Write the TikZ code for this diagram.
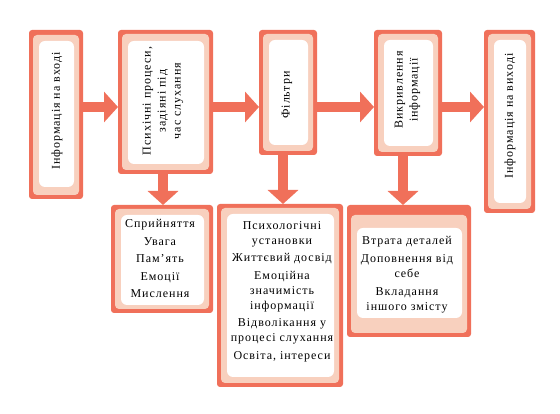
\documentclass[tikz,border=0pt]{standalone}
\usepackage{fontspec}
\setmainfont{Liberation Serif}[LetterSpace=8]
\usetikzlibrary{arrows.meta}
\definecolor{boxred}{RGB}{240,112,90}
\definecolor{peach}{RGB}{248,208,190}
\tikzset{
  outerbox/.style={fill=boxred, rounded corners=3pt, inner sep=0pt, outer sep=0pt},
  label/.style={font=\fontsize{12}{15}\selectfont, align=center, inner sep=0pt, text=black},
  conn/.style={draw=boxred, line width=9.5pt, -{Triangle[length=14pt,width=30pt]}},
}
\newcommand\panel[8]{%
  \node[outerbox, minimum width=#4pt, minimum height=#5pt] (#1) at (#2,#3) {};
  \fill[peach, rounded corners=4pt] ([shift={(4pt,-#6pt)}]#1.north west) rectangle ([shift={(-4pt,4pt)}]#1.south east);
  \fill[white, rounded corners=6pt] ([shift={(10pt,-#7pt)}]#1.north west) rectangle ([shift={(-9pt,#8pt)}]#1.south east);
}
\begin{document}
\begin{tikzpicture}[x=1pt,y=1pt]
\useasboundingbox (0,0) rectangle (560,414);
% top row
\panel{A1}{56}{299.5}{54}{169}{5}{11}{12}
\panel{A2}{165.5}{312}{95}{144}{4}{11}{10}
\panel{A3}{288}{321.5}{58}{125}{4}{10}{10}
\panel{A4}{408}{321}{68}{126}{4}{10}{10}
\panel{A5}{509.5}{292.5}{51}{183}{4}{10}{10}
% bottom row
\panel{B1}{162}{155}{102}{108}{4}{10}{8}
\panel{B2}{280}{118.5}{126}{183}{4}{10}{10}
\panel{B3}{409}{143}{124}{132}{10}{23}{19}
% texts
\node[label, rotate=90] (t1) at (57,303) {Інформація на вході};
\node[label, rotate=90] (t2) at (163,313) {Психічні процеси,\\ задіяні під\\ час слухання};
\node[label, rotate=90] (t3) at (287,319) {Фільтри};
\node[label, rotate=90] (t4) at (407.5,324) {Викривлення\\ інформації};
\node[label, rotate=90] (t5) at (510,298) {Інформація на виході};
\node[label] (u1) at (160,155.5) {Сприйняття\\[2.5pt] Увага\\[2.5pt] Пам’ять\\[2.5pt] Емоції\\[2.5pt] Мислення};
\node[label] (u2) at (282,122.5) {Психологічні\\ установки\\[2.5pt] Життєвий досвід\\[2.5pt] Емоційна\\ значимість\\ інформації\\[2.5pt] Відволікання у\\ процесі слухання\\[2.5pt] Освіта, інтереси};
\node[label] (u3) at (407,139.5) {Втрата деталей\\[3pt] Доповнення від\\ себе\\[3pt] Вкладання\\ іншого змісту};
% connectors
\coordinate (hl) at (0,307);
\draw[conn] (A1.east |- hl) -- (A2.west |- hl);
\draw[conn] (A2.east |- hl) -- (A3.west |- hl);
\draw[conn] (A3.east |- hl) -- (A4.west |- hl);
\draw[conn] (A4.east |- hl) -- (A5.west |- hl);
\draw[conn] ([xshift=-2.5pt]A2.south) -- ([xshift=-2.5pt]A2.south |- B1.north);
\draw[conn] ([xshift=-5pt]A3.south) -- ([xshift=-5pt]A3.south |- B2.north);
\draw[conn] ([xshift=-5pt]A4.south) -- ([xshift=-5pt]A4.south |- B3.north);
\end{tikzpicture}
\end{document}
